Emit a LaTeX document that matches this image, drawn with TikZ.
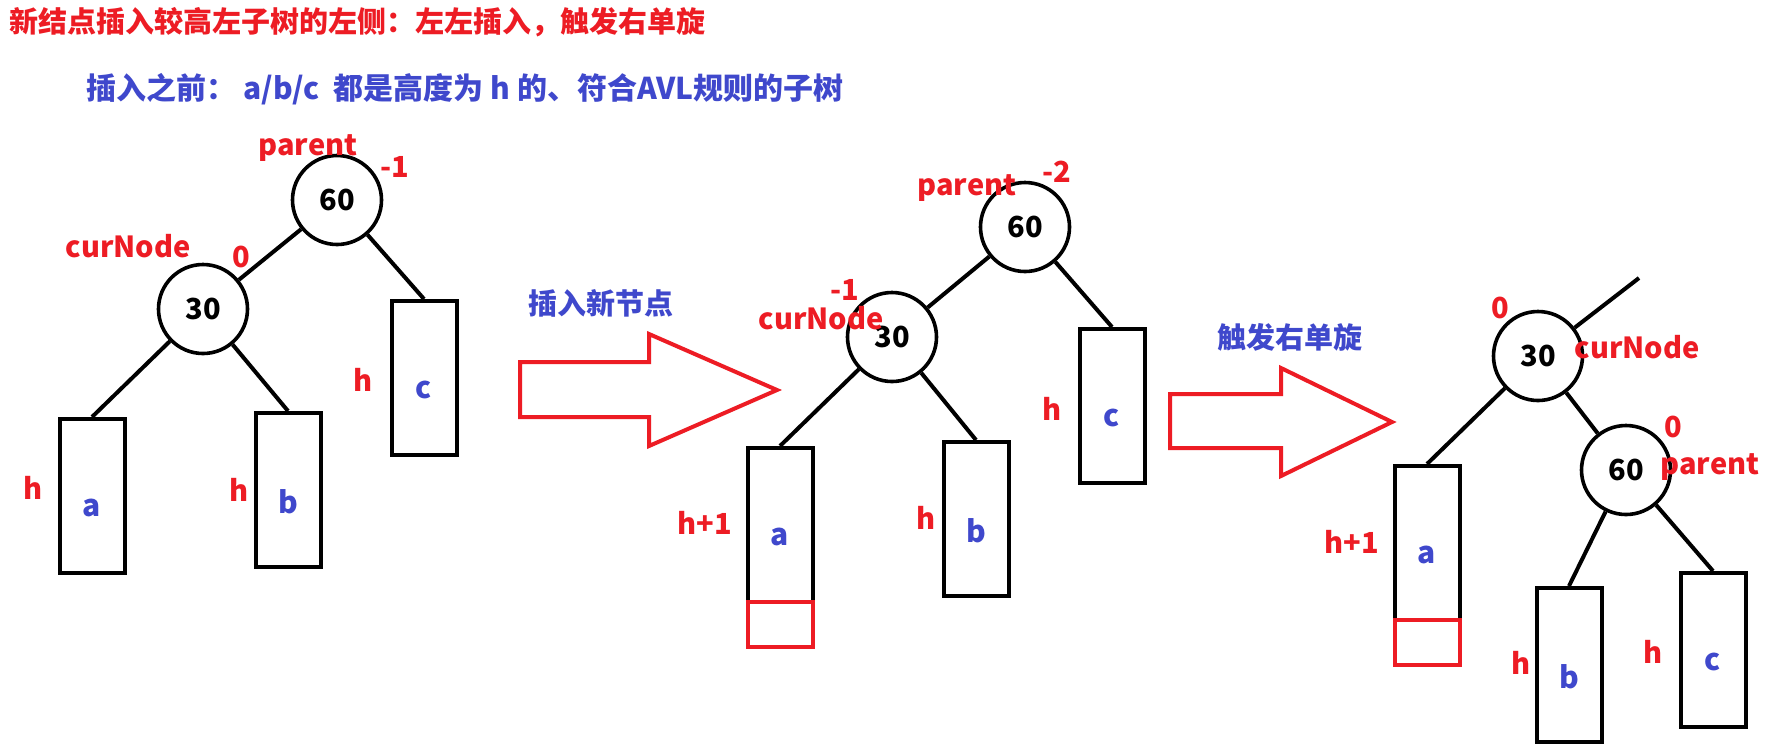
\documentclass[tikz,border=0pt]{standalone}
\usepackage{fontspec}
\setmainfont{Noto Sans CJK SC}
\usetikzlibrary{positioning}
\definecolor{avlRed}{RGB}{237,28,36}
\definecolor{avlBlue}{RGB}{63,72,204}

\begin{document}
\begin{tikzpicture}[
  x=0.5pt,y=-0.5pt,
  treenode/.style={
    draw,
    circle,
    line width=1.8pt,
    minimum size=44.5pt,
    inner sep=0pt,
    font=\bfseries\fontsize{14.5}{16}\selectfont
  },
  subtree/.style={
    draw,
    line width=2pt,
    minimum width=32.5pt,
    minimum height=77pt,
    inner sep=0pt,
    label={[letter]center:#1}
  },
  letter/.style={text=avlBlue,font=\bfseries\fontsize{15}{16}\selectfont,yshift=-6pt},
  newleaf/.style={draw=avlRed,line width=2pt,minimum width=32.5pt,minimum height=22.5pt,inner sep=0pt},
  tag/.style={text=avlRed,font=\bfseries\fontsize{14.5}{16}\selectfont,inner sep=0pt},
  note/.style={text=avlBlue,font=\bfseries\fontsize{14.5}{16}\selectfont,inner sep=0pt},
  link/.style={line width=2pt},
  bigarrow/.style={draw=avlRed,line width=2pt,line join=miter}
]
  \fill[white] (0,0) rectangle (1789,746);
  \useasboundingbox (0,0) rectangle (1789,746);

  % headings
  \node[tag,anchor=west] (title) at (9,22) {新结点插入较高左子树的左侧：左左插入，触发右单旋};
  \node[note,anchor=west,font=\bfseries\fontsize{15}{16}\selectfont] (before) at (86,89) {插入之前：\ a/b/c\ \ 都是高度为 h 的、符合AVL规则的子树};

  % tree before insertion
  \node[treenode] (p1) at (337,200) {60};
  \node[treenode] (q1) at (203,309) {30};
  \node[subtree=a] (a1) at (92,496) {};
  \node[subtree=b] (b1) at (288,490) {};
  \node[subtree=c] (c1) at (424,378) {};
  \draw[link] (p1) -- (q1);
  \draw[link] (p1) -- (c1.north);
  \draw[link] (q1) -- (a1.north);
  \draw[link] (q1) -- (b1.north);
  \node[tag] (p1name) at (308,148) {parent};
  \node[tag] (p1bf) at (395,167) {-1};
  \node[tag] (q1name) at (128,246) {curNode};
  \node[tag] (q1bf) at (241,257) {0};
  \node[tag] (a1h) at (33,488) {h};
  \node[tag] (b1h) at (239,490) {h};
  \node[tag] (c1h) at (363,380) {h};

  % first arrow
  \draw[bigarrow] (520,362) -- (649,362) -- (649,334) -- (777,390)
    -- (649,446) -- (649,417) -- (520,417) -- cycle;
  \node[note] (insert) at (601,303) {插入新节点};

  % tree after insertion
  \node[treenode] (p2) at (1025,227) {60};
  \node[treenode] (q2) at (892,337) {30};
  \node[subtree=a] (a2) at (780,525) {};
  \node[newleaf,below=-2pt of a2] (n2) {};
  \node[subtree=b] (b2) at (976,519) {};
  \node[subtree=c] (c2) at (1112,406) {};
  \draw[link] (p2) -- (q2);
  \draw[link] (p2) -- (c2.north);
  \draw[link] (q2) -- (a2.north);
  \draw[link] (q2) -- (b2.north);
  \node[tag] (p2name) at (967,188) {parent};
  \node[tag] (p2bf) at (1057,172) {-2};
  \node[tag] (q2bf) at (845,290) {-1};
  \node[tag] (q2name) at (821,318) {curNode};
  \node[tag] (a2h) at (705,523) {h+1};
  \node[tag] (b2h) at (926,518) {h};
  \node[tag] (c2h) at (1052,409) {h};

  % second arrow
  \draw[bigarrow] (1170,394) -- (1281,394) -- (1281,368) -- (1392,422)
    -- (1281,476) -- (1281,448) -- (1170,448) -- cycle;
  \node[note] (rotate) at (1290,337) {触发右单旋};

  % tree after right rotation
  \node[treenode] (q3) at (1538,356) {30};
  \node[treenode] (p3) at (1626,470) {60};
  \coordinate (up3) at (1639,278);
  \node[subtree=a] (a3) at (1427,543) {};
  \node[newleaf,below=-2pt of a3] (n3) {};
  \node[subtree=b] (b3) at (1569,665) {};
  \node[subtree=c] (c3) at (1713,650) {};
  \draw[link] (q3) -- (up3);
  \draw[link] (q3) -- (p3);
  \draw[link] (q3) -- (a3.north);
  \draw[link] (p3) -- (b3.north);
  \draw[link] (p3) -- (c3.north);
  \node[tag] (q3bf) at (1500,308) {0};
  \node[tag] (q3name) at (1637,347) {curNode};
  \node[tag] (p3bf) at (1673,427) {0};
  \node[tag] (p3name) at (1710,467) {parent};
  \node[tag] (a3h) at (1352,542) {h+1};
  \node[tag] (b3h) at (1521,663) {h};
  \node[tag] (c3h) at (1653,652) {h};
\end{tikzpicture}
\end{document}
